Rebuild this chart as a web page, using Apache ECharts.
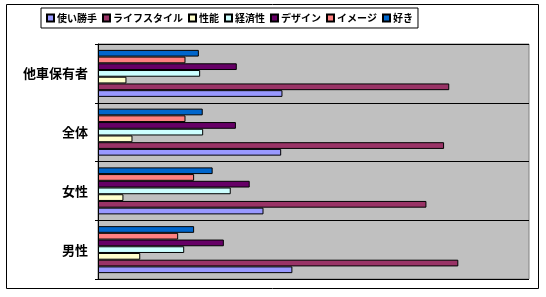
<!DOCTYPE html>
<html>
<head>
<meta charset="utf-8">
<script src="https://cdn.jsdelivr.net/npm/echarts@6/dist/echarts.min.js"></script>
<style>
  html, body { margin: 0; padding: 0; background: #fff; }
  #chart { width: 546px; height: 297px; }
</style>
</head>
<body>
<div id="chart"></div>
<script>
// categories bottom -> top
const groups = ["男性", "女性", "全体", "他車保有者"];
const seriesNames = ["使い勝手", "ライフスタイル", "性能", "経済性", "デザイン", "イメージ", "好き"];
const seriesColors = ["#9999FF", "#993366", "#FFFFCC", "#CCFFFF", "#660066", "#FF8080", "#0066CC"];

// values per series, order follows groups
const tsukaigatte = [45.1, 38.4, 42.5, 42.8];
const lifestyle = [83.6, 76.2, 80.3, 81.5];
const seino = [9.8, 5.9, 8.0, 6.6];
const keizaisei = [20.0, 30.8, 24.4, 23.7];
const design = [29.2, 35.2, 32.0, 32.2];
const image = [18.6, 22.3, 20.3, 20.3];
const suki = [22.3, 26.6, 24.3, 23.4];

const values = [tsukaigatte, lifestyle, seino, keizaisei, design, image, suki];

const font = '"Noto Sans CJK JP", sans-serif';

// first series sits at the bottom of each band, so add them reversed
const series = seriesNames.map((n, i) => ({
    name: n,
    type: "bar",
    data: values[i],
    barGap: 0,
    barCategoryGap: "20%",
    itemStyle: {
        color: seriesColors[i],
        borderColor: "#000",
        borderWidth: 1
    }
})).reverse();

const chart = echarts.init(document.getElementById("chart"));
chart.setOption({
    animation: false,
    textStyle: { fontFamily: font },
    graphic: [{
        type: "rect",
        silent: true,
        shape: { x: 6.5, y: 4.5, width: 532, height: 284 },
        style: { fill: "none", stroke: "#000", lineWidth: 1 }
    }],
    legend: {
        top: 8,
        left: 41,
        data: seriesNames,
        icon: "rect",
        itemWidth: 7,
        itemHeight: 7,
        itemGap: 5,
        padding: [5, 5],
        borderColor: "#000",
        borderWidth: 1,
        textStyle: {
            fontFamily: font,
            fontSize: 10,
            fontWeight: "bold",
            color: "#000",
            padding: [0, 0, 0, -2]
        }
    },
    grid: {
        left: 98,
        top: 44,
        right: 17,
        bottom: 18,
        show: true,
        backgroundColor: "#C0C0C0",
        borderColor: "#808080",
        borderWidth: 1,
        containLabel: false
    },
    xAxis: {
        type: "value",
        min: 0,
        max: 100,
        show: false
    },
    yAxis: {
        type: "category",
        data: groups,
        axisLine: { show: true, lineStyle: { color: "#000", width: 1 } },
        axisTick: { show: true, length: 3, lineStyle: { color: "#000" } },
        splitLine: { show: true, lineStyle: { color: "#000", width: 1 } },
        axisLabel: {
            fontFamily: font,
            fontSize: 13,
            fontWeight: "bold",
            color: "#000",
            margin: 10
        }
    },
    series
});
</script>
</body>
</html>
